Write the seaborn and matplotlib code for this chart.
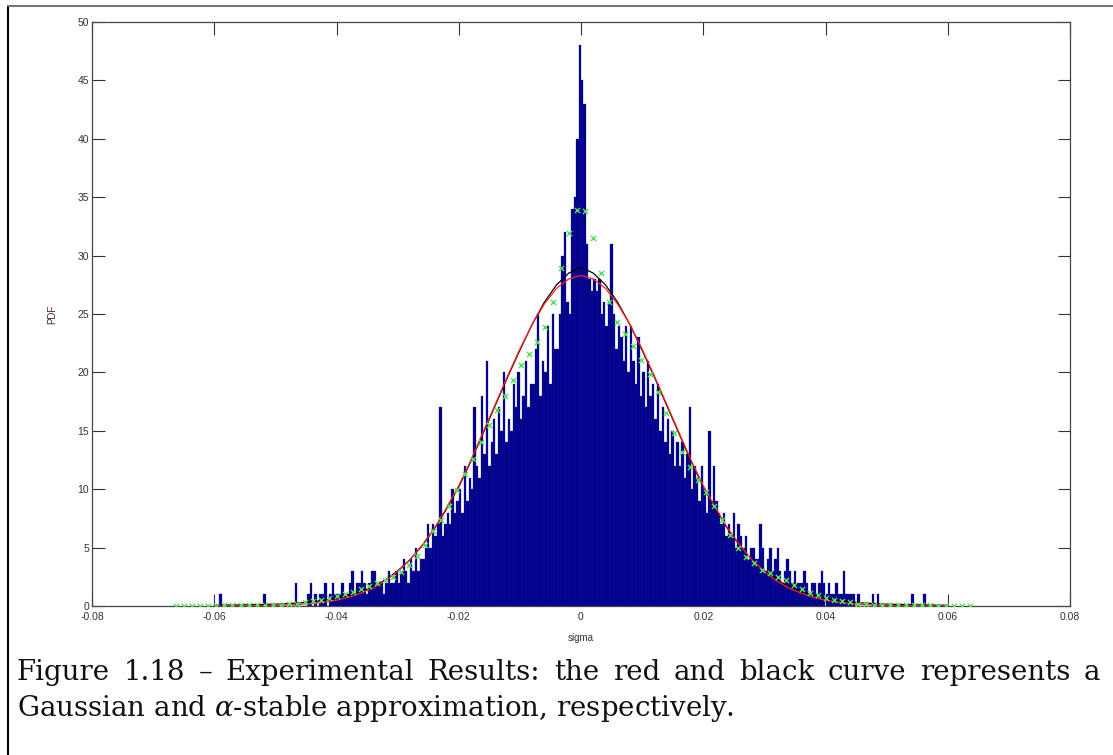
import matplotlib

matplotlib.use("Agg")
import matplotlib.pyplot as plt
from matplotlib.lines import Line2D
import numpy as np
import pandas as pd
import seaborn as sns

sns.set_theme(style="white")
plt.rcParams["font.family"] = ["Liberation Sans", "DejaVu Sans"]
plt.rcParams["mathtext.fontset"] = "dejavuserif"

# --- histogram heights (PDF), bins of 0.0004 from -0.06 to 0.06 ---
hist_pdf = [
    0, 0, 1, 0, 0, 0, 0, 0, 0, 0,
    0, 0, 0, 0, 0, 0, 0, 0, 0, 0,
    1, 0, 0, 0, 0, 0, 0, 0, 0, 0,
    0, 0, 0, 2, 0, 0, 0, 0, 1, 2,
    0, 1, 0, 1, 1, 2, 0, 1, 2, 1,
    1, 1, 2, 1, 1, 2, 3, 1, 2, 2,
    3, 2, 1, 2, 3, 3, 2, 2, 2, 1,
    2, 3, 2, 2, 3, 2, 3, 4, 3, 2,
    4, 3, 5, 3, 4, 4, 5, 7, 5, 7,
    6, 7, 17, 6, 7, 8, 7, 10, 8, 9,
    10, 8, 12, 9, 11, 10, 17, 12, 11, 18,
    13, 21, 12, 14, 16, 13, 17, 15, 20, 14,
    16, 15, 19, 17, 20, 16, 18, 21, 17, 19,
    19, 22, 25, 18, 21, 20, 24, 19, 25, 22,
    22, 25, 30, 32, 26, 25, 34, 35, 40, 48,
    45, 43, 31, 28, 27, 28, 27, 28, 25, 26,
    24, 26, 31, 25, 22, 24, 23, 21, 24, 20,
    24, 21, 19, 23, 18, 20, 17, 21, 18, 19,
    16, 19, 15, 17, 14, 16, 13, 15, 12, 14,
    12, 14, 11, 13, 17, 10, 12, 11, 9, 12,
    10, 8, 15, 9, 12, 9, 8, 7, 8, 6,
    7, 6, 8, 5, 7, 6, 5, 6, 4, 5,
    5, 4, 4, 7, 5, 3, 4, 5, 3, 4,
    5, 3, 2, 3, 4, 3, 2, 3, 2, 2,
    2, 3, 2, 1, 2, 2, 1, 2, 3, 2,
    1, 2, 1, 1, 2, 1, 1, 3, 1, 1,
    1, 1, 0, 1, 0, 0, 0, 0, 0, 1,
    0, 1, 0, 0, 0, 0, 0, 0, 0, 0,
    0, 0, 0, 0, 0, 1, 0, 0, 0, 0,
    1, 0, 0, 0, 0, 0, 0, 0, 0, 0,
]
bin_width = 0.0004
bin_centers = -0.06 + bin_width / 2 + bin_width * np.arange(len(hist_pdf))
df_hist = pd.DataFrame({"sigma": bin_centers, "pdf": hist_pdf})

# --- fitted curves, sampled every 0.002 from -0.06 to 0.06 ---
curve_x = np.linspace(-0.06, 0.06, 61)
gauss_half = [28.3, 28.0, 27.2, 25.85, 24.1, 22.0, 19.7, 17.3, 14.9, 12.5, 10.3,
              8.4, 6.65, 5.2, 3.95, 2.95, 2.15, 1.55, 1.1, 0.75, 0.5,
              0.34, 0.22, 0.14, 0.09, 0.05, 0.03, 0.02, 0.01, 0.005, 0.003]
stable_half = [29.0, 28.5, 27.5, 26.0, 24.1, 21.9, 19.6, 17.2, 14.8, 12.4, 10.2,
               8.3, 6.6, 5.15, 3.95, 3.0, 2.25, 1.65, 1.2, 0.9, 0.65,
               0.48, 0.36, 0.27, 0.2, 0.16, 0.13, 0.11, 0.09, 0.08, 0.07]
gauss_pdf = gauss_half[::-1] + gauss_half[1:]
stable_pdf = stable_half[::-1] + stable_half[1:]

# --- green 'x' reference points ---
marker_x = -0.0662 + 0.001312 * np.arange(100)
marker_pdf = [
    0.02, 0.02, 0.03, 0.03, 0.04, 0.04, 0.05, 0.05, 0.06, 0.07, 0.08, 0.09, 0.1,
    0.12, 0.15, 0.2, 0.3, 0.4, 0.55, 0.7, 0.85, 1.0, 1.2, 1.45, 1.75, 1.95,
    2.2, 2.5, 2.9, 3.5, 4.3, 5.2, 6.4, 7.4, 8.6, 9.9, 11.3, 12.6, 14.0, 15.5,
    16.8, 18.0, 19.35, 20.6, 21.6, 22.6, 23.9, 26.0, 28.9, 31.9, 33.9, 33.8,
    31.5, 28.5, 26.0, 24.3, 23.3, 22.3, 21.1, 19.9, 18.3, 16.5, 14.8, 13.2,
    11.9, 10.8, 9.8, 8.6, 7.4, 6.1, 5.0, 4.2, 3.65, 3.1, 2.8, 2.5, 2.2, 1.8,
    1.45, 1.1, 0.9, 0.7, 0.55, 0.45, 0.35, 0.2, 0.15, 0.12, 0.1, 0.09, 0.08,
    0.07, 0.06, 0.05, 0.05, 0.04, 0.04, 0.03, 0.03, 0.02,
]

x_ticks = [-0.08, -0.06, -0.04, -0.02, 0, 0.02, 0.04, 0.06, 0.08]
x_labels = ["-0.08", "-0.06", "-0.04", "-0.02", "0", "0.02", "0.04", "0.06", "0.08"]
y_ticks = [0, 5, 10, 15, 20, 25, 30, 35, 40, 45, 50]

W, H = 1113, 755
fig = plt.figure(figsize=(W / 100, H / 100), dpi=100)
ax = fig.add_axes([92 / W, 1 - 606 / H, (1070 - 92) / W, (606 - 22) / H])

sns.histplot(data=df_hist, x="sigma", weights="pdf", binwidth=bin_width,
             binrange=(-0.06, 0.06), stat="count", color="#00008b", alpha=1,
             edgecolor="#1a1aa0", linewidth=0.2, ax=ax)
sns.lineplot(x=curve_x, y=stable_pdf, color="black", linewidth=0.9, ax=ax)
sns.lineplot(x=curve_x, y=gauss_pdf, color="#ff2020", linewidth=0.9, ax=ax)
sns.scatterplot(x=marker_x, y=marker_pdf, marker="x", color="#55e055", s=14,
                linewidth=1.0, ax=ax, zorder=5)

ax.set_xlim(-0.08, 0.08)
ax.set_ylim(0, 50)
ax.set_xticks(x_ticks)
ax.set_xticklabels(x_labels)
ax.set_yticks(y_ticks)
ax.tick_params(direction="in", length=9, width=0.8, labelsize=7.5, colors="#333333",
               top=True, right=True, bottom=True, left=True)
ax.tick_params(axis="x", pad=4)
ax.tick_params(axis="y", pad=2)
for s in ax.spines.values():
    s.set_color("#444444")
    s.set_linewidth(0.9)
ax.set_xlabel("sigma", fontsize=7, color="#333333", labelpad=8)
ax.set_ylabel("PDF", fontsize=7, color="#4b2040", labelpad=15)

# outer frame of the figure box
fig.add_artist(Line2D([8 / W, 8 / W], [0, 1 - 6 / H], color="black", lw=1.5))
fig.add_artist(Line2D([8 / W, 1], [1 - 6 / H, 1 - 6 / H], color="#777777", lw=1.5))

# caption, first line justified
renderer = fig.canvas.get_renderer()
line1 = "Figure 1.18 – Experimental Results: the red and black curve represents a"
line2 = r"Gaussian and $\alpha$-stable approximation, respectively."
cap_x0, cap_x1 = 17, 1100
t2 = fig.text(cap_x0 / W, 1 - 708 / H, line2, ha="left", va="center",
              family="DejaVu Serif", fontsize=20, color="#111111")
fs = 20 * 718 / t2.get_window_extent(renderer).width
t2.set_fontsize(fs)

words = line1.split(" ")
word_texts = [fig.text(0, 1 - 672 / H, w, ha="left", va="center",
                       family="DejaVu Serif", fontsize=fs, color="#111111") for w in words]
widths = [t.get_window_extent(renderer).width for t in word_texts]
gap = (cap_x1 - cap_x0 - sum(widths)) / (len(words) - 1)
xpos = cap_x0
for t, w in zip(word_texts, widths):
    t.set_x(xpos / W)
    xpos += w + gap

fig.savefig("out.png", dpi=100)
